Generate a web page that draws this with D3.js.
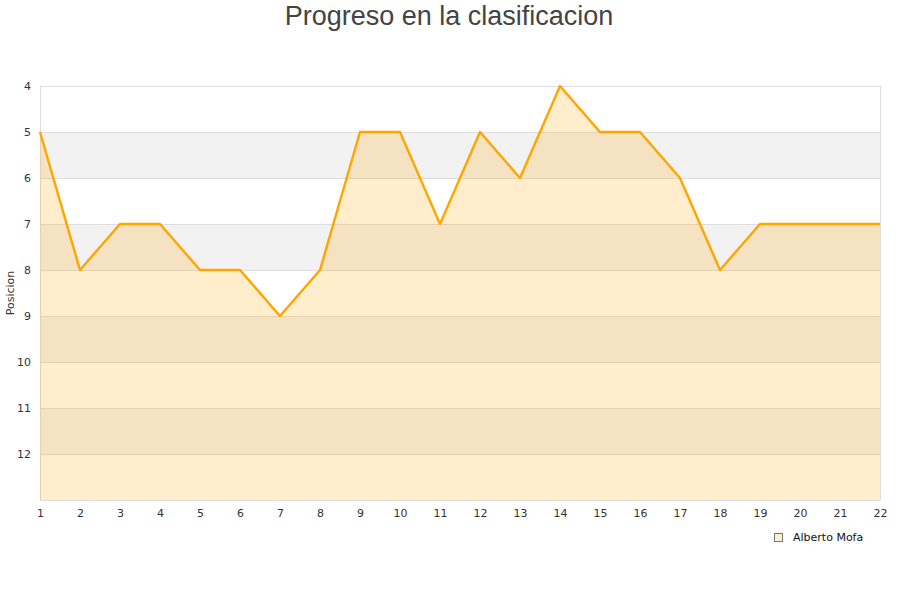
<!DOCTYPE html>
<html><head><meta charset="utf-8">
<script src="https://cdn.jsdelivr.net/npm/d3@7"></script>
<style>body{margin:0;background:#fff}svg{display:block}</style>
</head><body><svg id="c" width="900" height="600"></svg>
<script>
const rounds = [1,2,3,4,5,6,7,8,9,10,11,12,13,14,15,16,17,18,19,20,21,22];
const positions = [5,8,7,7,8,8,9,8,5,5,7,5,6,4,5,5,6,8,7,7,7,7];
const yTicks = [4,5,6,7,8,9,10,11,12];
const seriesName = "Alberto Mofa";
const titleText = "Progreso en la clasificacion";
const yTitle = "Posicion";

const svg = d3.select("#c");
const m = {l:40, r:880, t:86, b:500};
const x = d3.scaleLinear().domain([1,22]).range([m.l, m.r]);
const y = d3.scaleLinear().domain([4,13]).range([m.t, m.b]);

const bands = d3.range(4,13);
svg.selectAll("rect.band").data(bands).enter().append("rect")
  .attr("x", m.l).attr("width", m.r-m.l)
  .attr("y", d=>y(d)).attr("height", d=>y(d+1)-y(d))
  .attr("fill", d=> (d%2===1) ? "#f2f2f2" : "#ffffff");
svg.selectAll("line.grid").data(d3.range(4,14)).enter().append("line")
  .attr("x1", m.l).attr("x2", m.r).attr("y1", d=>y(d)+0.5).attr("y2", d=>y(d)+0.5)
  .attr("stroke", "#dddddd").attr("stroke-width",1);
svg.append("line").attr("x1",m.l+0.5).attr("x2",m.l+0.5).attr("y1",m.t).attr("y2",m.b).attr("stroke","#dddddd");
svg.append("line").attr("x1",m.r+0.5).attr("x2",m.r+0.5).attr("y1",m.t).attr("y2",m.b).attr("stroke","#dddddd");

const data = rounds.map((r,i)=>({r, p:positions[i]}));
svg.append("path").datum(data)
  .attr("d", d3.area().x(d=>x(d.r)).y0(m.b).y1(d=>y(d.p)))
  .attr("fill", "rgba(255,165,0,0.2)");
svg.append("path").datum(data)
  .attr("d", d3.line().x(d=>x(d.r)).y(d=>y(d.p)))
  .attr("fill","none").attr("stroke","#ffa500").attr("stroke-width",2.4).attr("stroke-linejoin","round");

const yAxis = svg.append("g").attr("transform",`translate(${m.l},0)`)
  .call(d3.axisLeft(y).tickValues(yTicks).tickSize(0).tickPadding(9));
yAxis.select(".domain").remove();
yAxis.selectAll("text").attr("font-family","DejaVu Sans").attr("font-size",11).attr("fill","#333");

const xAxis = svg.append("g").attr("transform",`translate(0,${m.b})`)
  .call(d3.axisBottom(x).tickValues(rounds).tickFormat(d3.format("d")).tickSize(0).tickPadding(9));
xAxis.select(".domain").remove();
xAxis.selectAll("text").attr("font-family","DejaVu Sans").attr("font-size",11).attr("fill","#333");

svg.append("text").attr("x",449).attr("y",25).attr("text-anchor","middle")
  .attr("font-family","Liberation Sans, Arial").attr("font-size",27).attr("fill","#444").text(titleText);

svg.append("text").attr("transform","translate(14,293) rotate(-90)").attr("text-anchor","middle")
  .attr("font-family","DejaVu Sans").attr("font-size",11).attr("fill","#333").text(yTitle);

svg.append("rect").attr("x",774.5).attr("y",533.5).attr("width",8).attr("height",8)
  .attr("fill","#ffedcc").attr("stroke","#777").attr("stroke-width",1);
svg.append("text").attr("x",793).attr("y",541).attr("font-family","DejaVu Sans").attr("font-size",11)
  .attr("fill","#111").text(seriesName);
</script></body></html>
